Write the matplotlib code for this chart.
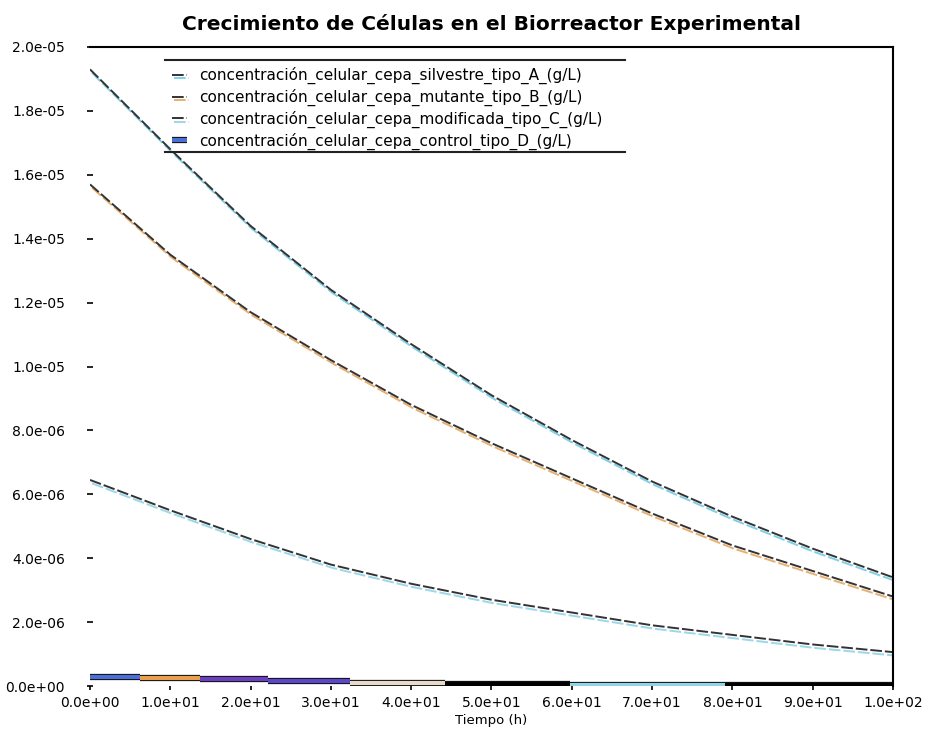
import matplotlib
matplotlib.use("Agg")
import matplotlib.pyplot as plt
import matplotlib.patheffects as pe

# ---- data ----
tiempo = [0, 10, 20, 30, 40, 50, 60, 70, 80, 90, 100]
x_tick_labels = ["0.0e+00", "1.0e+01", "2.0e+01", "3.0e+01", "4.0e+01", "5.0e+01",
                 "6.0e+01", "7.0e+01", "8.0e+01", "9.0e+01", "1.0e+02"]
serie_a = [1.93e-05, 1.68e-05, 1.44e-05, 1.24e-05, 1.07e-05, 9.1e-06,
           7.7e-06, 6.4e-06, 5.3e-06, 4.3e-06, 3.4e-06]
serie_b = [1.57e-05, 1.35e-05, 1.17e-05, 1.02e-05, 8.8e-06, 7.6e-06,
           6.5e-06, 5.4e-06, 4.4e-06, 3.6e-06, 2.8e-06]
serie_c = [6.45e-06, 5.5e-06, 4.6e-06, 3.8e-06, 3.2e-06, 2.7e-06,
           2.3e-06, 1.9e-06, 1.6e-06, 1.3e-06, 1.06e-06]
tiempo_d = [0, 6.2, 13.7, 22.2, 32.4, 44.2, 59.8, 79.1, 100]
serie_d = [2.8e-07, 2.5e-07, 2.2e-07, 1.6e-07, 0.9e-07, 0.6e-07, 0.3e-07, 0.3e-07]
etiquetas = ["concentración_celular_cepa_silvestre_tipo_A_(g/L)",
             "concentración_celular_cepa_mutante_tipo_B_(g/L)",
             "concentración_celular_cepa_modificada_tipo_C_(g/L)",
             "concentración_celular_cepa_control_tipo_D_(g/L)"]
y_ticks = [0, 2e-6, 4e-6, 6e-6, 8e-6, 1e-5, 1.2e-5, 1.4e-5, 1.6e-5, 1.8e-5, 2e-5]
y_tick_labels = ["0.0e+00", "2.0e-06", "4.0e-06", "6.0e-06", "8.0e-06", "1.0e-05",
                 "1.2e-05", "1.4e-05", "1.6e-05", "1.8e-05", "2.0e-05"]
colores_segmentos = ["#4a6fd6", "#e8a050", "#6a3fc0", "#5a48c8", "#e8dcc8",
                     "#000000", "#8fd4ea", "#000000"]

fig = plt.figure(figsize=(9.41, 7.31), dpi=100)
ax = fig.add_axes([90/941, 1-686/731, 803/941, 639/731])

sombras = ["#7fd0e6", "#e8b070", "#9ad8ea"]
for serie, lab, sc in zip([serie_a, serie_b, serie_c], etiquetas[:3], sombras):
    ax.plot(tiempo, serie, color="#333333", lw=1.4, ls=(0, (6, 1.5)), label=lab,
            path_effects=[pe.SimpleLineShadow(offset=(1.5, -2.5), shadow_color=sc, alpha=1.0, rho=1.0),
                          pe.Normal()])

# near-zero stepped series drawn in coloured segments
for i in range(len(serie_d)):
    ax.plot([tiempo_d[i], tiempo_d[i+1]], [serie_d[i], serie_d[i]], color=colores_segmentos[i],
            lw=3, solid_capstyle="butt", label=etiquetas[3] if i == 0 else None,
            path_effects=[pe.Stroke(linewidth=4.5, foreground="#111111"), pe.Normal()])

ax.set_xlim(tiempo[0], tiempo[-1])
ax.set_ylim(0, 2e-5)
ax.set_xticks(tiempo)
ax.set_xticklabels(x_tick_labels, fontsize=10)
ax.set_yticks(y_ticks)
ax.set_yticklabels(y_tick_labels, fontsize=10)
ax.tick_params(axis="y", length=4, width=1.2, direction="inout", pad=16)
ax.tick_params(axis="x", length=3, width=1.2, pad=4)
ax.spines["left"].set_visible(False)
ax.spines["bottom"].set_visible(False)
ax.spines["top"].set_linewidth(1.5)
ax.spines["right"].set_linewidth(1.5)
ax.set_xlabel("Tiempo (h)", fontsize=9.5, labelpad=3)
ax.set_title("Crecimiento de Células en el Biorreactor Experimental",
             fontsize=14.5, fontweight="bold", pad=12)

leg = ax.legend(loc="upper left", bbox_to_anchor=(0.085, 0.99), frameon=False,
                fontsize=11, handlelength=1.0, labelspacing=0.3, borderpad=0.4)
ax.plot([0.093, 0.666], [0.980, 0.980], transform=ax.transAxes, color="#222222", lw=1.5, clip_on=False)
ax.plot([0.093, 0.666], [0.836, 0.836], transform=ax.transAxes, color="#222222", lw=1.5, clip_on=False)

fig.savefig("out.png", dpi=100)
